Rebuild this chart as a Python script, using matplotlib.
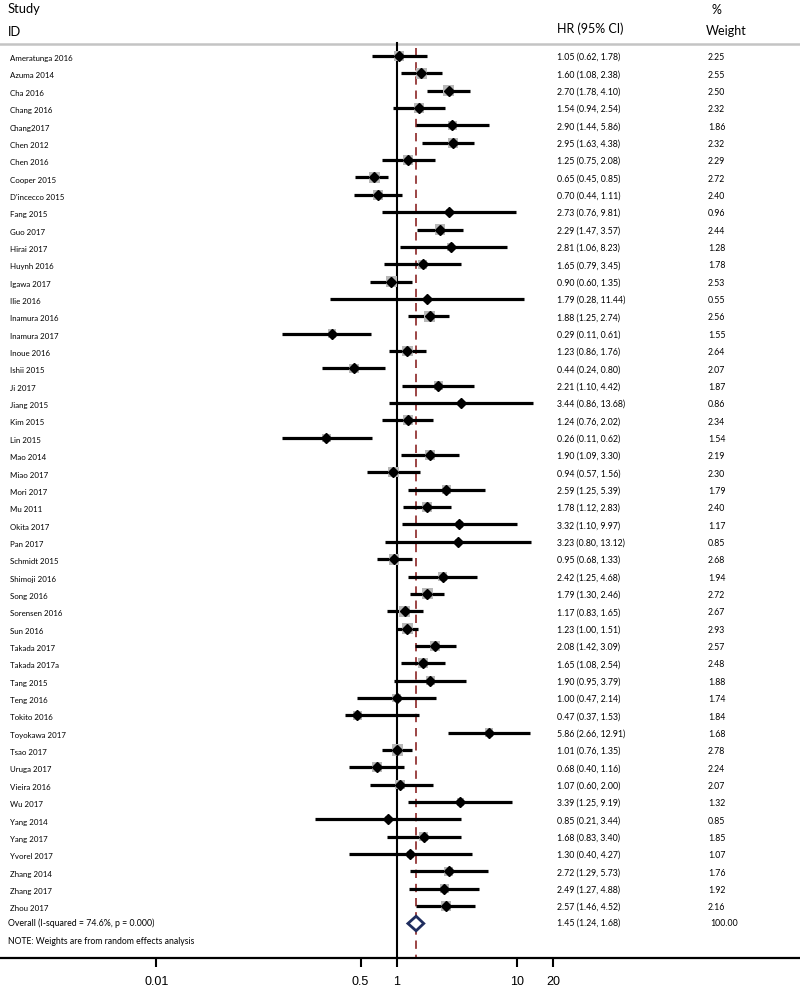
import numpy as np
import matplotlib
matplotlib.use("Agg")
import matplotlib.pyplot as plt
from matplotlib import transforms
from matplotlib.patches import Polygon

# Study data
studies = ["Ameratunga 2016", "Azuma 2014", "Cha 2016", "Chang 2016", "Chang2017",
           "Chen 2012", "Chen 2016", "Cooper 2015", "D'incecco 2015", "Fang 2015",
           "Guo 2017", "Hirai 2017", "Huynh 2016", "Igawa 2017", "Ilie 2016",
           "Inamura 2016", "Inamura 2017", "Inoue 2016", "Ishii 2015", "Ji 2017",
           "Jiang 2015", "Kim 2015", "Lin 2015", "Mao 2014", "Miao 2017",
           "Mori 2017", "Mu 2011", "Okita 2017", "Pan 2017", "Schmidt 2015",
           "Shimoji 2016", "Song 2016", "Sorensen 2016", "Sun 2016", "Takada 2017",
           "Takada 2017a", "Tang 2015", "Teng 2016", "Tokito 2016", "Toyokawa 2017",
           "Tsao 2017", "Uruga 2017", "Vieira 2016", "Wu 2017", "Yang 2014",
           "Yang 2017", "Yvorel 2017", "Zhang 2014", "Zhang 2017", "Zhou 2017"]
hr = [1.05, 1.60, 2.70, 1.54, 2.90, 2.95, 1.25, 0.65, 0.70, 2.73,
      2.29, 2.81, 1.65, 0.90, 1.79, 1.88, 0.29, 1.23, 0.44, 2.21,
      3.44, 1.24, 0.26, 1.90, 0.94, 2.59, 1.78, 3.32, 3.23, 0.95,
      2.42, 1.79, 1.17, 1.23, 2.08, 1.65, 1.90, 1.00, 0.47, 5.86,
      1.01, 0.68, 1.07, 3.39, 0.85, 1.68, 1.30, 2.72, 2.49, 2.57]
lower = [0.62, 1.08, 1.78, 0.94, 1.44, 1.63, 0.75, 0.45, 0.44, 0.76,
         1.47, 1.06, 0.79, 0.60, 0.28, 1.25, 0.11, 0.86, 0.24, 1.10,
         0.86, 0.76, 0.11, 1.09, 0.57, 1.25, 1.12, 1.10, 0.80, 0.68,
         1.25, 1.30, 0.83, 1.00, 1.42, 1.08, 0.95, 0.47, 0.37, 2.66,
         0.76, 0.40, 0.60, 1.25, 0.21, 0.83, 0.40, 1.29, 1.27, 1.46]
upper = [1.78, 2.38, 4.10, 2.54, 5.86, 4.38, 2.08, 0.85, 1.11, 9.81,
         3.57, 8.23, 3.45, 1.35, 11.44, 2.74, 0.61, 1.76, 0.80, 4.42,
         13.68, 2.02, 0.62, 3.30, 1.56, 5.39, 2.83, 9.97, 13.12, 1.33,
         4.68, 2.46, 1.65, 1.51, 3.09, 2.54, 3.79, 2.14, 1.53, 12.91,
         1.35, 1.16, 2.00, 9.19, 3.44, 3.40, 4.27, 5.73, 4.88, 4.52]
weights = [2.25, 2.55, 2.50, 2.32, 1.86, 2.32, 2.29, 2.72, 2.40, 0.96,
           2.44, 1.28, 1.78, 2.53, 0.55, 2.56, 1.55, 2.64, 2.07, 1.87,
           0.86, 2.34, 1.54, 2.19, 2.30, 1.79, 2.40, 1.17, 0.85, 2.68,
           1.94, 2.72, 2.67, 2.93, 2.57, 2.48, 1.88, 1.74, 1.84, 1.68,
           2.78, 2.24, 2.07, 1.32, 0.85, 1.85, 1.07, 1.76, 1.92, 2.16]

overall_hr = 1.45
overall_lo = 1.24
overall_hi = 1.68
overall_label = "Overall (I-squared = 74.6%, p = 0.000)"

tick_vals = [0.01, 0.5, 1, 10, 20]
tick_labels = ["0.01", "0.5", "1", "10", "20"]

W, H = 800, 989
fig = plt.figure(figsize=(W / 100, H / 100), dpi=100)
ax = fig.add_axes([0, 31 / H, 1, 1 - 31 / H])

row_px = 17.35
top_px = 56.0
plot_h = H - 31


def row(p):
    # pixel row (from the top) -> data row
    return (p - top_px) / row_px


ax.set_xscale("log")
ax.set_xlim(10 ** -3.303, 10 ** 3.358)
ax.set_ylim(row(plot_h), row(0))

txt_font = "Lato"
n = len(studies)
ys = np.arange(n)

# weight boxes, CI lines, point estimates
for i in range(n):
    ax.plot([lower[i], upper[i]], [ys[i], ys[i]], color="black", lw=2.3,
            solid_capstyle="butt", zorder=3)
side = 4.8 * np.sqrt(np.array(weights))
ax.scatter(hr, ys, s=side ** 2, marker="s", color="#b8b8b8", zorder=4,
           linewidths=0)
ax.plot(hr, ys, linestyle="none", marker="D", markersize=5.2,
        color="black", zorder=5)

# null line and overall effect line
ax.plot([1, 1], [row(43), row(plot_h)], color="black", lw=1.5, zorder=2)
ax.plot([overall_hr, overall_hr], [row(48), row(plot_h)], color="#8b2525",
        lw=1.2, dashes=(5, 3.5), zorder=2)

# overall diamond
oy = n
dh = 0.42
diamond = Polygon([(overall_lo, oy), (overall_hr, oy - dh), (overall_hi, oy),
                   (overall_hr, oy + dh)], closed=True, facecolor="white",
                  edgecolor="#1f2d5e", lw=2.0, zorder=6)
ax.add_patch(diamond)

# header line
ax.plot([10 ** -3.303, 10 ** 3.358], [row(44), row(44)], color="#c4c4c4",
        lw=1.8, zorder=1, clip_on=False)

tr = transforms.blended_transform_factory(ax.transAxes, ax.transData)

# headers
ax.text(8 / W, row(9), "Study", transform=tr, fontsize=9.3, family=txt_font, va="center")
ax.text(8 / W, row(31.5), "ID", transform=tr, fontsize=9.3, family=txt_font, va="center")
ax.text(557 / W, row(28.5), "HR (95% CI)", transform=tr, fontsize=9.0, family=txt_font, va="center")
ax.text(712 / W, row(10), "%", transform=tr, fontsize=9.0, family=txt_font, va="center")
ax.text(706 / W, row(31), "Weight", transform=tr, fontsize=9.0, family=txt_font, va="center")

for i in range(n):
    ax.text(10 / W, ys[i] + 0.15, studies[i], transform=tr, fontsize=5.7,
            family=txt_font, va="center")
    ax.text(557 / W, ys[i] + 0.08, "%.2f (%.2f, %.2f)" % (hr[i], lower[i], upper[i]),
            transform=tr, fontsize=6.3, family=txt_font, va="center")
    ax.text(708 / W, ys[i] + 0.1, "%.2f" % weights[i], transform=tr, fontsize=6.3,
            family=txt_font, va="center")

ax.text(8 / W, oy, overall_label, transform=tr, fontsize=6.3, family=txt_font, va="center")
ax.text(557 / W, oy, "%.2f (%.2f, %.2f)" % (overall_hr, overall_lo, overall_hi),
        transform=tr, fontsize=6.3, family=txt_font, va="center")
ax.text(710 / W, oy, "100.00", transform=tr, fontsize=6.3, family=txt_font, va="center")
ax.text(8 / W, row(942), "NOTE: Weights are from random effects analysis", transform=tr,
        fontsize=6.2, family=txt_font, va="center")

# axis styling
for s in ["top", "left", "right"]:
    ax.spines[s].set_visible(False)
ax.spines["bottom"].set_linewidth(1.6)
ax.set_yticks([])
ax.minorticks_off()
ax.set_xticks(tick_vals)
ax.set_xticklabels(tick_labels, fontsize=9, family="Liberation Sans")
ax.tick_params(axis="x", direction="out", length=6.5, width=1.5, pad=6.5)

fig.savefig("out.png", dpi=100)
